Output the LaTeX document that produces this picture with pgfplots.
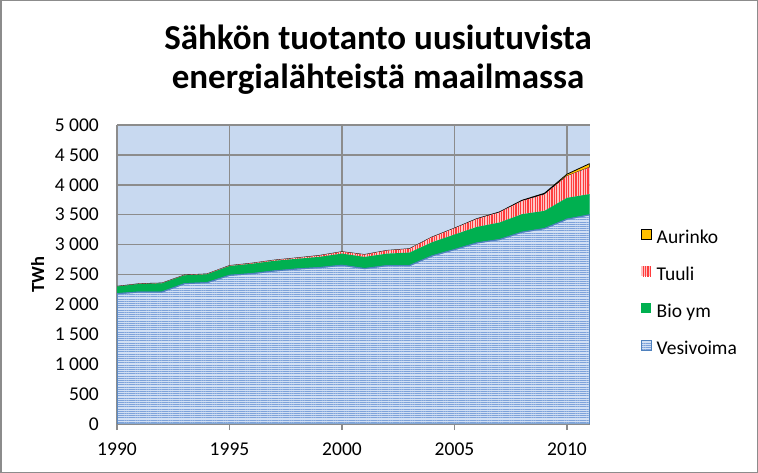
\documentclass[border=0pt]{standalone}
\usepackage{fontspec}
\setmainfont{Carlito}
\usepackage{pgfplots}
\pgfplotsset{compat=1.18}
\usetikzlibrary{patterns.meta}

\definecolor{plotbg}{HTML}{C8D9F0}
\definecolor{gridgray}{HTML}{8C8C8C}
\definecolor{hydrofill}{HTML}{D2E0F4}
\definecolor{hydroline}{HTML}{7DA2DA}
\definecolor{hydroedge}{HTML}{4F81BD}
\definecolor{windfill}{HTML}{FFC4C4}
\definecolor{windline}{HTML}{FF3C3C}
\definecolor{bio}{HTML}{00B050}
\definecolor{solar}{HTML}{FFC000}

\begin{document}
\begin{tikzpicture}
\path (0,0) rectangle (758bp,473bp);

\node[anchor=base, font=\fontsize{35bp}{40bp}\selectfont\bfseries] at (378bp,423.7bp) {Sähkön tuotanto uusiutuvista};
\node[anchor=base, font=\fontsize{35bp}{40bp}\selectfont\bfseries] at (378bp,384.7bp) {energialähteistä maailmassa};

\begin{axis}[
  at={(117bp,49bp)}, anchor=south west,
  scale only axis, width=472.5bp, height=299bp,
  xmin=1990, xmax=2011, ymin=0, ymax=5000,
  xtick={1990,1995,2000,2005,2010},
  ytick={0,500,...,5000},
  stack plots=y,
  axis x line*=bottom, axis y line*=left,
  axis line style={gridgray, line width=1.2bp},
  axis background/.style={fill=plotbg},
  grid=major,
  major grid style={gridgray, line width=1.5bp},
  tick align=outside,
  major tick length=6bp,
  xtick style={gridgray, line width=1.2bp},
  ytick style={draw=none},
  tick label style={font=\fontsize{19.5bp}{22bp}\selectfont},
  xticklabel style={inner sep=0pt, yshift=-13bp, /pgf/number format/1000 sep={}},
  yticklabel style={inner sep=0pt, xshift=-12bp, /pgf/number format/1000 sep={\ }},
  /pgf/number format/assume math mode=true,
  scaled y ticks=false,
  ylabel={TWh},
  ylabel style={at={(axis description cs:-0.168,0.5)}, anchor=center,
    font=\fontsize{18.5bp}{21bp}\selectfont\bfseries},
  legend image code/.code={\path[#1] (0bp,0bp) rectangle (10bp,10bp);},
  reverse legend,
  legend cell align=left,
  legend style={at={(1.108,0.653)}, anchor=north west, draw=none, fill=none,
    inner sep=0pt, row sep=19bp, column sep=5bp,
    font=\fontsize{19.5bp}{22bp}\selectfont,
    nodes={inner sep=0pt, text height=12bp, text depth=4bp}},
]
\addplot[mark=none, fill=hydrofill, draw=hydroedge, line width=1bp,
  postaction={pattern={Lines[angle=0,distance=2.2bp,line width=1bp]}, pattern color=hydroline}]
  coordinates {
  (1990,2179) (1991,2207) (1992,2207) (1993,2346) (1994,2363) (1995,2486)
  (1996,2514) (1997,2559) (1998,2592) (1999,2615) (2000,2654) (2001,2598)
  (2002,2648) (2003,2648) (2004,2810) (2005,2916) (2006,3028) (2007,3084)
  (2008,3207) (2009,3268) (2010,3425) (2011,3497)
} \closedcycle;
\addlegendentry{Vesivoima}

\addplot[mark=none, fill=bio, draw=none]
  coordinates {
  (1990,120) (1991,135) (1992,145) (1993,140) (1994,140) (1995,155)
  (1996,165) (1997,170) (1998,170) (1999,180) (2000,195) (2001,196)
  (2002,201) (2003,218) (2004,229) (2005,252) (2006,268) (2007,285)
  (2008,302) (2009,296) (2010,357) (2011,347)
} \closedcycle;
\addlegendentry{Bio ym}

\addplot[mark=none, fill=windfill, draw=none,
  postaction={pattern={Lines[angle=90,distance=2.4bp,line width=1.2bp]}, pattern color=windline}]
  coordinates {
  (1990,3) (1991,4) (1992,5) (1993,5) (1994,6) (1995,8)
  (1996,10) (1997,12) (1998,15) (1999,22) (2000,31) (2001,38)
  (2002,52) (2003,64) (2004,85) (2005,104) (2006,133) (2007,170)
  (2008,220) (2009,275) (2010,364) (2011,447)
} \closedcycle;
\addlegendentry{Tuuli}

\addplot[mark=none, fill=solar, draw=black, line width=0.8bp]
  coordinates {
  (1990,0) (1991,0) (1992,0) (1993,0) (1994,0) (1995,0)
  (1996,0) (1997,0) (1998,1) (1999,1) (2000,1) (2001,1)
  (2002,1) (2003,1) (2004,2) (2005,3) (2006,5) (2007,7)
  (2008,12) (2009,20) (2010,32) (2011,62)
} \closedcycle;
\addlegendentry{Aurinko}
\end{axis}

\draw[gridgray, line width=1.5bp] (0.75bp,0.75bp) rectangle (757.25bp,472.25bp);
\pgfresetboundingbox
\path (0,0) rectangle (758bp,473bp);
\end{tikzpicture}
\end{document}
